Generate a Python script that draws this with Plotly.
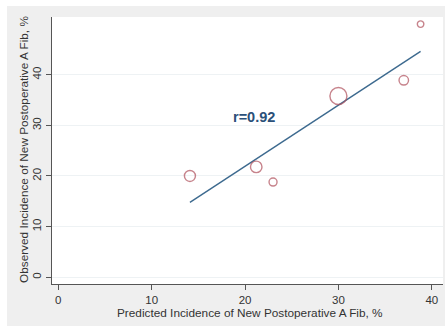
import plotly.graph_objects as go

# Data
predicted = [14.1, 21.2, 23.0, 30.0, 37.0, 38.8]
observed = [20.0, 21.8, 18.8, 35.8, 38.9, 50.0]
marker_sizes = [11, 11.5, 8, 17, 9.5, 6.5]

fit_x = [14.1, 38.8]
fit_y = [14.8, 44.6]

x_ticks = [0, 10, 20, 30, 40]
y_ticks = [0, 10, 20, 30, 40]
r_label = "r=0.92"

W, H = 445, 328
L, R, T, B = 52, 2, 17, 44
pw, ph = W - L - R, H - T - B

fig = go.Figure()
fig.add_trace(go.Scatter(
    x=fit_x, y=fit_y, mode="lines",
    line=dict(color="#3d6a8f", width=1.4),
    showlegend=False, hoverinfo="skip"))
fig.add_trace(go.Scatter(
    x=predicted, y=observed, mode="markers",
    marker=dict(size=marker_sizes, color="rgba(0,0,0,0)",
                line=dict(color="#b0505c", width=1.4)),
    showlegend=False))

def px_x(p):
    return (p - L) / pw

def px_y(p):
    return (H - B - p) / ph

fig.add_shape(type="rect", xref="paper", yref="paper",
              x0=px_x(7), x1=px_x(446), y0=px_y(326), y1=px_y(6),
              fillcolor="#efefef", line=dict(width=0), layer="below")
fig.add_shape(type="rect", xref="paper", yref="paper",
              x0=0, x1=1, y0=0, y1=1,
              fillcolor="white", line=dict(width=0), layer="below")

fig.add_annotation(x=21.0, y=31.6, xref="x", yref="y", text="<b>" + r_label + "</b>",
                   showarrow=False, font=dict(size=14.5, color="#2b5079",
                                              family="Liberation Sans, Arial"))

fig.add_annotation(x=px_x(250), y=px_y(313), xref="paper", yref="paper",
                   text="Predicted Incidence of New Postoperative A Fib, %",
                   showarrow=False, xanchor="center", yanchor="middle",
                   font=dict(size=11.8, color="#333333", family="Liberation Sans, Arial"))
fig.add_annotation(x=px_x(24), y=px_y(150), xref="paper", yref="paper",
                   text="Observed Incidence of New Postoperative A Fib, %",
                   showarrow=False, xanchor="center", yanchor="middle", textangle=-90,
                   font=dict(size=11.8, color="#333333", family="Liberation Sans, Arial"))

fig.update_layout(
    width=W, height=H,
    margin=dict(l=L, r=R, t=T, b=B),
    paper_bgcolor="white", plot_bgcolor="white",
    font=dict(family="Liberation Sans, Arial", size=11, color="#333333"),
    xaxis=dict(range=[-0.67, 41.2], tickvals=x_ticks, ticks="outside", ticklen=5,
               tickcolor="#555555", showline=True, linecolor="#555555", linewidth=1,
               showgrid=False, zeroline=False, tickfont=dict(size=11.5)),
    yaxis=dict(range=[-1.33, 51.4], tickvals=y_ticks, ticks="outside", ticklen=5,
               tickcolor="#555555", showline=True, linecolor="#555555", linewidth=1,
               showgrid=True, gridcolor="#eef2f4", gridwidth=1, zeroline=False,
               tickangle=-90, tickfont=dict(size=11.5)),
)

fig.write_html("out.html", config={"displayModeBar": False},
               post_script="document.body.style.margin='0px';")
